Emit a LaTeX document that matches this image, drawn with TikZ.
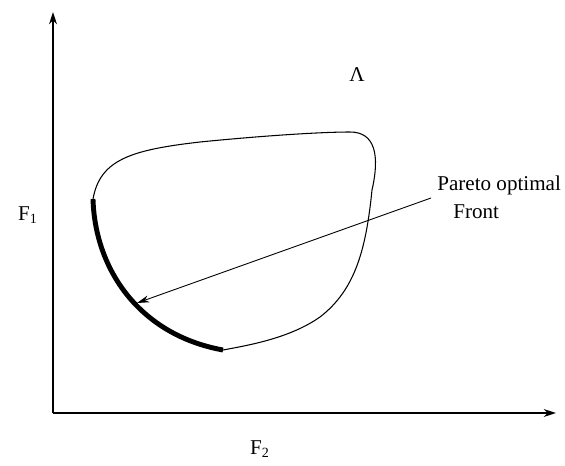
\documentclass[tikz,border=0pt]{standalone}
\usepackage{fontspec}
\setmainfont{Liberation Serif}
\usepackage{tikz}
\usetikzlibrary{arrows.meta,calc,positioning}
\tikzset{lbl/.style={inner sep=0pt,font=\fontsize{12}{14}\selectfont}}
\begin{document}
\begin{tikzpicture}[x=0.02cm,y=-0.02cm,>=Stealth,line join=round]
\useasboundingbox (0,0) rectangle (565,466);
% --- axes
\coordinate (o) at (53,413);
\coordinate (ytip) at (53,12);
\coordinate (xtip) at (556,413);
\draw[line width=0.8pt,-{Stealth[length=7pt,width=4.5pt]}] (o) -- (ytip);
\draw[line width=0.8pt,-{Stealth[length=7pt,width=4.5pt]}] (o) -- (xtip);
\node[lbl] (f1) at (28,215) {F\textsubscript{1}};
\node[lbl] (f2) at (260,449) {F\textsubscript{2}};
% --- feasible region and its front
\node[lbl] (lam) at (357,75) {Λ};
\draw[line width=0.6pt] (93,199) .. controls (100,160) and (130,150) .. (200,142) .. controls (260,136) and (320,132) .. (350,132) .. controls (375,132) and (380,155) .. (372,190) .. controls (366,250) and (355,290) .. (320,317) .. controls (290,338) and (250,345) .. (223,350);
\draw[line width=2.8pt] (93,199) .. controls (95,270) and (140,335) .. (223,350);
% --- label and pointer
\node[lbl,anchor=west] (pareto) at (437,185) {Pareto optimal};
\node[lbl,anchor=west] (front) at (453,212) {Front};
\coordinate (tail) at (431,198);
\coordinate (onfront) at (137,303);
\draw[line width=0.5pt,-{Stealth[length=7pt,width=4pt]}] (tail) -- (onfront);
\end{tikzpicture}
\end{document}
